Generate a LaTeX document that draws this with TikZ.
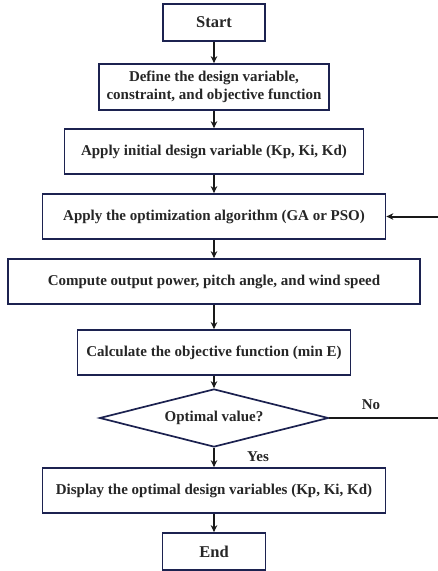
\documentclass[tikz,border=0pt]{standalone}
\usepackage{fontspec}
\setmainfont{Liberation Serif}
\usetikzlibrary{shapes.geometric,arrows.meta}
\definecolor{boxline}{HTML}{1C2250}
\begin{document}
\begin{tikzpicture}[x=1pt,y=-1pt,
  box/.style={draw=boxline,line width=1.7pt,rectangle,inner sep=0pt,align=center,
    font=\fontsize{15}{18}\selectfont\bfseries,text=black!85},
  term/.style={box,font=\fontsize{16.5}{19}\selectfont\bfseries},
  dec/.style={draw=boxline,line width=1.7pt,diamond,aspect=3.95,inner sep=0pt,
    font=\fontsize{15}{18}\selectfont\bfseries,text=black!85},
  lbl/.style={font=\fontsize{15}{18}\selectfont\bfseries,text=black!85},
  arr/.style={line width=2pt,black!90,-{Stealth[length=7pt,width=6.5pt]}}]
\useasboundingbox (0,0) rectangle (437,571);
\node[term,minimum width=102pt,minimum height=37pt] (start) at (214,22.5) {Start};
\node[box,minimum width=230pt,minimum height=46pt] (def) at (214,87) {Define the design variable,\\constraint, and objective function};
\node[box,minimum width=299pt,minimum height=45pt] (init) at (214,151.5) {Apply initial design variable (Kp, Ki, Kd)};
\node[box,minimum width=343pt,minimum height=45pt] (opt) at (214,216.5) {Apply the optimization algorithm (GA or PSO)};
\node[box,minimum width=412pt,minimum height=45pt] (comp) at (214,281.5) {Compute output power, pitch angle, and wind speed};
\node[box,minimum width=273pt,minimum height=45pt] (calc) at (214,352.5) {Calculate the objective function (min E)};
\node[dec,minimum width=229pt,minimum height=58pt] (dia) at (214,418) {Optimal value?};
\node[box,minimum width=343pt,minimum height=45pt] (disp) at (214,490.5) {Display the optimal design variables (Kp, Ki, Kd)};
\node[term,minimum width=103pt,minimum height=37pt] (end) at (214,551.5) {End};
\node[lbl] (no) at (371,405) {No};
\node[lbl] (yes) at (258,457) {Yes};
\coordinate (fb) at (439,418);
\draw[arr] (start) -- (def);
\draw[arr] (def) -- (init);
\draw[arr] (init) -- (opt);
\draw[arr] (opt) -- (comp);
\draw[arr] (comp) -- (calc);
\draw[arr] (calc) -- (dia);
\draw[arr] (dia) -- (disp);
\draw[arr] (disp) -- (end);
\draw[arr] (dia.east) -- (fb) |- (opt.east);
\end{tikzpicture}
\end{document}
